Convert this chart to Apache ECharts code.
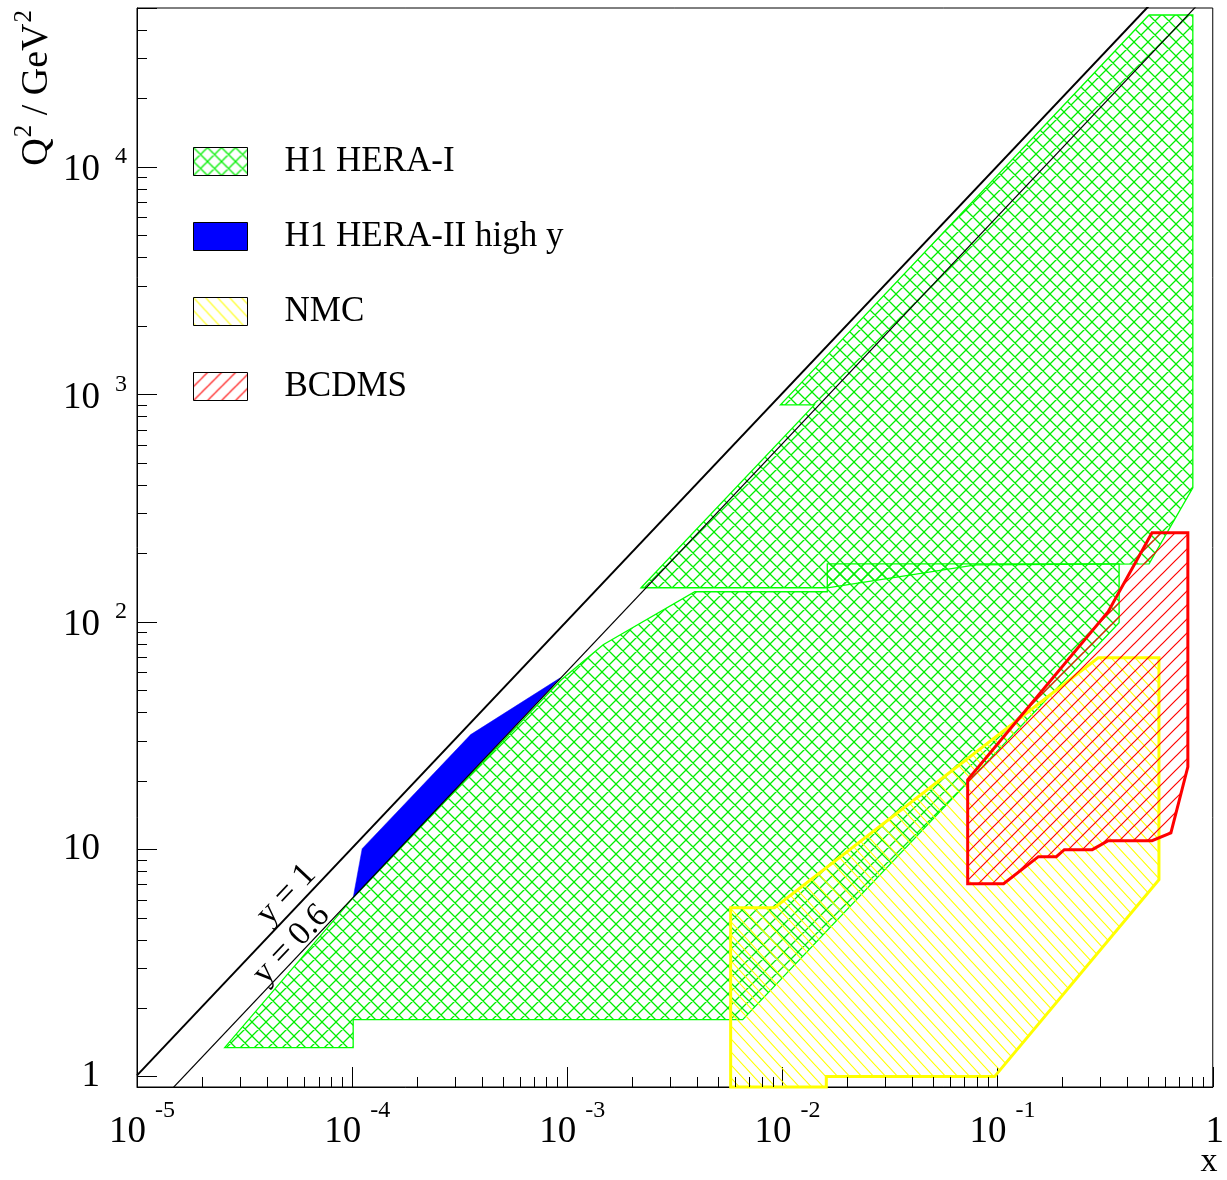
<!DOCTYPE html>
<html>
<head>
<meta charset="utf-8">
<script src="https://cdn.jsdelivr.net/npm/echarts@6/dist/echarts.min.js"></script>
<style>html,body{margin:0;padding:0;background:#fff}#chart{width:1227px;height:1180px}</style>
</head>
<body>
<div id="chart"></div>
<script>
// ---------------- data (x, Q^2 in GeV^2) ----------------
const X_MIN = 1e-5, X_MAX = 1;
const Q2_MIN = 0.9, Q2_MAX = 50000;

const xTickExps = [-5, -4, -3, -2, -1, 0];
const yTickExps = [0, 1, 2, 3, 4];
const minorMultipliers = [2, 3, 4, 5, 6, 7, 8, 9];

// H1 HERA-I : low / medium Q2 part
const heraLowX  = [2.555e-5, 1.011e-4, 9.38e-4, 1.468e-3, 3.914e-3, 0.01616, 0.01616, 0.3671, 0.3671, 6.53e-3, 1.011e-4, 1.011e-4];
const heraLowQ2 = [1.34, 6.12, 55.6, 79.2, 135.5, 135.5, 179.8, 179.8, 99.0, 1.78, 1.78, 1.34];
// H1 HERA-I : high Q2 part
const heraHighX  = [2.202e-3, 0.01406, 9.79e-3, 0.5057, 0.808, 0.808, 0.5057, 0.0791, 0.01616];
const heraHighQ2 = [141.1, 899, 899, 46570, 46570, 388, 179.8, 178.0, 141.1];
// H1 HERA-II high y
const hiYX  = [1.011e-4, 1.113e-4, 3.556e-4, 9.28e-4];
const hiYQ2 = [6.12, 10.05, 31.9, 56.7];
// NMC
const nmcX  = [5.744e-3, 5.744e-3, 9.18e-3, 0.2935, 0.5623, 0.5623, 0.0968, 0.01599, 0.01599];
const nmcQ2 = [0.9, 5.53, 5.53, 69.5, 69.5, 7.34, 1.0, 1.0, 0.9];
// BCDMS
const bcdmsX  = [0.0726, 0.0726, 0.1066, 0.1548, 0.1875, 0.2042, 0.2753, 0.3265, 0.522, 0.6389, 0.7661, 0.7661, 0.522, 0.3265];
const bcdmsQ2 = [20.2, 7.05, 7.05, 9.27, 9.27, 9.95, 9.95, 10.9, 10.9, 11.8, 23.0, 246, 246, 110.7];

// kinematic limit lines
const limitX = [1e-5, 1];
const yOneQ2 = [1.012, 101200];
const ySixQ2 = [0.607, 60720];
const limitLabels = ['y = 1', 'y = 0.6'];
const limitLabelX = [4.95e-5, 5.22e-5];
const limitLabelQ2 = [6.31, 3.80];

const legendNames = ['H1 HERA-I', 'H1 HERA-II high y', 'NMC', 'BCDMS'];

// ---------------- helpers ----------------
const SERIF = "'Liberation Serif', 'Times New Roman', Times, serif";
const L = Math.log10;
const toPts = (xs, ys) => xs.map((x, i) => [L(x), L(ys[i])]);
const LX0 = L(X_MIN), LX1 = L(X_MAX), LY0 = L(Q2_MIN), LY1 = L(Q2_MAX);

function makeHatch(w, h, color, dirs, lw) {
  const c = document.createElement('canvas');
  c.width = w; c.height = h;
  const ctx = c.getContext('2d');
  ctx.strokeStyle = color; ctx.lineWidth = lw;
  ctx.beginPath();
  dirs.forEach(d => {
    [-w, 0, w].forEach(off => {
      if (d === 'back') { ctx.moveTo(off - w, -h); ctx.lineTo(off + 2 * w, 2 * h); }
      else { ctx.moveTo(off - w, 2 * h); ctx.lineTo(off + 2 * w, -h); }
    });
  });
  ctx.stroke();
  return { image: c, repeat: 'repeat' };
}
const greenPat = makeHatch(14, 14, '#00ee00', ['back', 'fwd'], 1.3);
const yellowPat = makeHatch(12, 13, '#ffff00', ['back'], 1.1);
const redPat = makeHatch(14, 14, '#ff0000', ['fwd'], 1.2);

function polySeries(name, pts, fill, stroke, lw, z) {
  return {
    type: 'custom', name: name, silent: true, z: z,
    itemStyle: { color: fill },
    data: pts,
    renderItem: function (params, api) {
      if (params.dataIndex !== 0) return null;
      const p = pts.map(v => api.coord(v));
      return { type: 'polygon', shape: { points: p }, style: { fill: fill, stroke: stroke, lineWidth: lw, lineJoin: 'miter' } };
    }
  };
}

const xMinor = [], yMinor = [];
for (let n = -5; n < 0; n++) minorMultipliers.forEach(k => xMinor.push([n + L(k), LY0]));
for (let n = 0; n <= 4; n++) minorMultipliers.forEach(k => { const v = n + L(k); if (v < LY1) yMinor.push([LX0, v]); });

const chart = echarts.init(document.getElementById('chart'), null, { renderer: 'canvas' });

const option = {
  animation: false,
  backgroundColor: '#fff',
  grid: { left: 137, right: 10, top: 8, bottom: 93, show: true, borderColor: '#000', borderWidth: 1, backgroundColor: 'transparent' },
  legend: {
    orient: 'vertical', left: 193, top: 144, padding: 0,
    itemWidth: 54, itemHeight: 28, itemGap: 40, icon: 'rect', selectedMode: false,
    textStyle: { fontFamily: SERIF, fontSize: 35, color: '#000', lineHeight: 28, padding: [0, 0, 0, 32] },
    data: [
      { name: legendNames[0], itemStyle: { color: greenPat, borderColor: '#000', borderWidth: 1 } },
      { name: legendNames[1], itemStyle: { color: '#0000ff', borderColor: '#000', borderWidth: 1 } },
      { name: legendNames[2], itemStyle: { color: yellowPat, borderColor: '#000', borderWidth: 1 } },
      { name: legendNames[3], itemStyle: { color: redPat, borderColor: '#000', borderWidth: 1 } }
    ]
  },
  xAxis: {
    type: 'value', min: LX0, max: LX1, interval: 1,
    splitLine: { show: false },
    axisLine: { show: true, onZero: false, lineStyle: { color: '#000', width: 1 } },
    axisTick: { show: true, inside: true, length: 20, lineStyle: { color: '#000', width: 1 } },
    axisLabel: {
      margin: 12, color: '#000', fontFamily: SERIF,
      formatter: function (v) {
        const r = Math.round(v);
        if (Math.abs(v - r) > 1e-6 || xTickExps.indexOf(r) < 0) return '';
        if (r === 0) return '{b1|1}';
        return '{b|10}{s|' + r + '}';
      },
      rich: {
        b: { fontSize: 37, fontFamily: SERIF, color: '#000', verticalAlign: 'bottom', padding: [0, 0, 0, 10] },
        s: { fontSize: 24, fontFamily: SERIF, color: '#000', verticalAlign: 'top', padding: [0, 0, 28, 9] },
        b1: { fontSize: 37, fontFamily: SERIF, color: '#000', padding: [15, 0, 0, 4] }
      }
    }
  },
  yAxis: {
    type: 'value', min: LY0, max: LY1, splitNumber: 5,
    splitLine: { show: false },
    axisLine: { show: true, onZero: false, lineStyle: { color: '#000', width: 1 } },
    axisTick: { show: true, inside: true, length: 20, lineStyle: { color: '#000', width: 1 } },
    axisLabel: {
      margin: 10, color: '#000', fontFamily: SERIF,
      formatter: function (v) {
        const r = Math.round(v);
        if (Math.abs(v - r) > 1e-6 || yTickExps.indexOf(r) < 0) return '';
        if (r === 0) return '{p|1}{sp| }';
        if (r === 1) return '{p|10}{sp| }';
        return '{b|10}{s|' + r + '}';
      },
      rich: {
        b: { fontSize: 37, fontFamily: SERIF, color: '#000', verticalAlign: 'bottom' },
        s: { fontSize: 24, fontFamily: SERIF, color: '#000', verticalAlign: 'top', padding: [0, 0, 20, 15] },
        p: { fontSize: 37, fontFamily: SERIF, color: '#000' },
        sp: { fontSize: 24, fontFamily: SERIF, width: 27 }
      }
    }
  },
  graphic: [
    {
      type: 'text', x: 34, y: 10, rotation: Math.PI / 2, silent: true,
      style: {
        text: '{a|Q}{s|2}{a| / GeV}{s|2}', align: 'right', verticalAlign: 'middle', fill: '#000',
        rich: {
          a: { fontSize: 38, fontFamily: SERIF, fill: '#000', verticalAlign: 'bottom' },
          s: { fontSize: 25, fontFamily: SERIF, fill: '#000', verticalAlign: 'top', padding: [0, 0, 20, 1] }
        }
      }
    },
    {
      type: 'text', x: 1209, y: 1162, silent: true,
      style: { text: 'x', fontSize: 34, fontFamily: SERIF, fill: '#000', align: 'center', verticalAlign: 'middle' }
    }
  ],
  series: [
    polySeries(legendNames[0], toPts(heraLowX, heraLowQ2), greenPat, '#00ff00', 1.3, 2),
    polySeries(legendNames[0], toPts(heraHighX, heraHighQ2), greenPat, '#00ff00', 1.3, 2),
    polySeries(legendNames[1], toPts(hiYX, hiYQ2), '#0000ff', '#0000ff', 0.5, 3),
    polySeries(legendNames[2], toPts(nmcX, nmcQ2), yellowPat, '#ffff00', 3, 4),
    polySeries(legendNames[3], toPts(bcdmsX, bcdmsQ2), redPat, '#ff0000', 3, 5),
    {
      type: 'line', silent: true, z: 6, symbol: 'none', clip: true,
      data: toPts(limitX, yOneQ2),
      lineStyle: { color: '#000', width: 2 }
    },
    {
      type: 'line', silent: true, z: 6, symbol: 'none', clip: true,
      data: toPts(limitX, ySixQ2),
      lineStyle: { color: '#000', width: 1.2 }
    },
    {
      type: 'custom', silent: true, z: 7,
      data: limitLabelX.map((x, i) => [L(x), L(limitLabelQ2[i])]),
      renderItem: function (params, api) {
        const i = params.dataIndex;
        const p = api.coord([api.value(0), api.value(1)]);
        const a = api.coord(toPts(limitX, yOneQ2)[0]);
        const b = api.coord(toPts(limitX, yOneQ2)[1]);
        const ang = -Math.atan2(b[1] - a[1], b[0] - a[0]);
        return {
          type: 'text', x: p[0], y: p[1], rotation: ang,
          style: { text: limitLabels[i], fontSize: 34, fontFamily: SERIF, fill: '#000', align: 'center', verticalAlign: 'middle' }
        };
      }
    },
    {
      type: 'custom', silent: true, z: 8, data: xMinor,
      renderItem: function (params, api) {
        const p = api.coord([api.value(0), api.value(1)]);
        const x = Math.round(p[0]) + 0.5;
        return { type: 'line', shape: { x1: x, y1: p[1], x2: x, y2: p[1] - 10 }, style: { stroke: '#000', lineWidth: 1 } };
      }
    },
    {
      type: 'custom', silent: true, z: 8, data: yMinor,
      renderItem: function (params, api) {
        const p = api.coord([api.value(0), api.value(1)]);
        const y = Math.round(p[1]) + 0.5;
        return { type: 'line', shape: { x1: p[0], y1: y, x2: p[0] + 10, y2: y }, style: { stroke: '#000', lineWidth: 1 } };
      }
    }
  ]
};
chart.setOption(option);
</script>
</body>
</html>
